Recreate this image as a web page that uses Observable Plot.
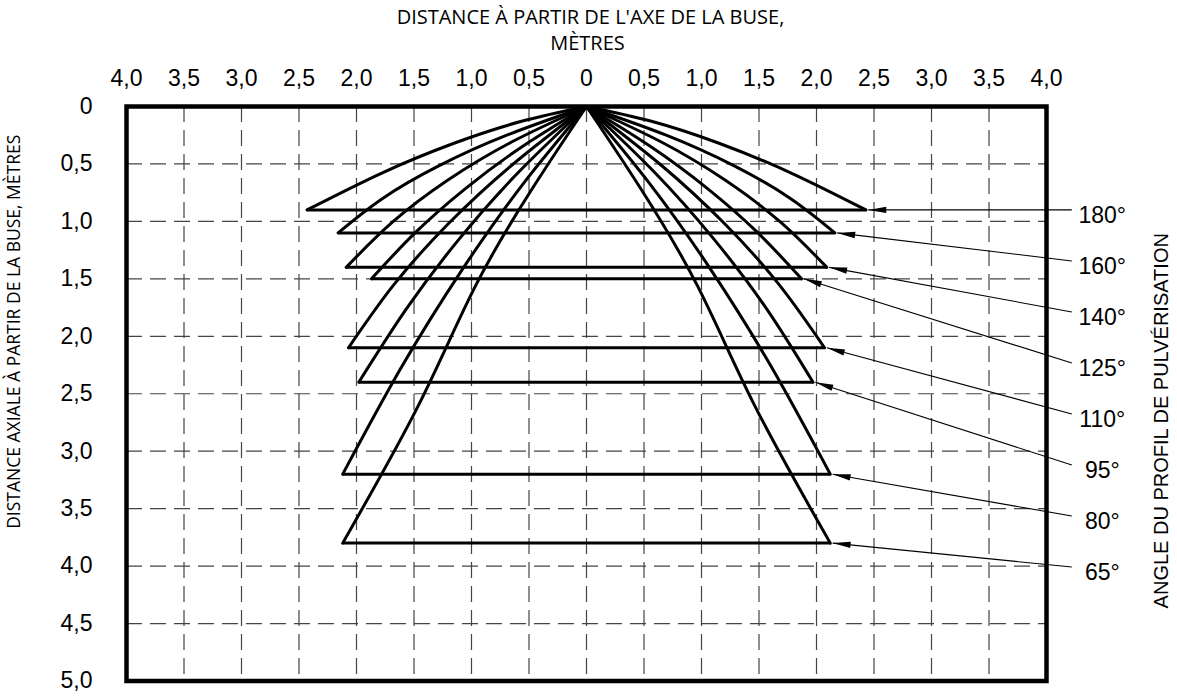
<!DOCTYPE html>
<html><head><meta charset="utf-8">
<script src="https://cdn.jsdelivr.net/npm/d3@7"></script>
<script src="https://cdn.jsdelivr.net/npm/@observablehq/plot@0.6"></script>
<style>
html,body{margin:0;padding:0;background:#fff;}
#chart{width:1177px;height:696px;}
</style></head><body><div id="chart"></div>
<script>
// ---- data ----
const angleLabels = ["180°","160°","140°","125°","110°","95°","80°","65°"];
const depths     = [0.90, 1.10, 1.40, 1.50, 2.10, 2.40, 3.20, 3.80];
const leftEnds   = [-2.43, -2.16, -2.09, -1.87, -2.07, -1.98, -2.12, -2.12];
const rightEnds  = [2.43, 2.16, 2.09, 1.87, 2.07, 1.97, 2.12, 2.12];
// spray profile: horizontal distance from axis / depth, nozzle -> edge
const profileX = [
  [0, 0.565, 1.158, 1.780],
  [0, 0.693, 1.285, 1.773],
  [0, 0.643, 1.205, 1.688],
  [0, 0.554, 1.050, 1.489],
  [0, 0.645, 1.206, 1.680],
  [0, 0.583, 1.106, 1.568],
  [0, 0.551, 1.088, 1.611],
  [0, 0.457, 0.963, 1.457]
];
const profileY = [
  [0, 0.129, 0.322, 0.579],
  [0, 0.250, 0.517, 0.800],
  [0, 0.305, 0.640, 1.007],
  [0, 0.346, 0.712, 1.098],
  [0, 0.507, 1.025, 1.557],
  [0, 0.564, 1.152, 1.764],
  [0, 0.673, 1.430, 2.272],
  [0, 0.692, 1.557, 2.592]
];
const xTicks = [-4,-3.5,-3,-2.5,-2,-1.5,-1,-0.5,0,0.5,1,1.5,2,2.5,3,3.5,4];
const yTicks = [0,0.5,1,1.5,2,2.5,3,3.5,4,4.5,5];
const xTitle1 = "DISTANCE À PARTIR DE L'AXE DE LA BUSE,";
const xTitle2 = "MÈTRES";
const yTitle = "DISTANCE AXIALE À PARTIR DE LA BUSE, MÈTRES";
const rTitle = "ANGLE DU PROFIL DE PULVÉRISATION";

// ---- layout ----
const W = 1177, H = 696, ML = 126, MT = 106, MR = 131, MB = 15.5;
const labelX = 4.485, labelTop = 0.95, labelStep = 0.444, leaderEndX = 4.22;
const fmt = v => v === 0 ? "0" : Math.abs(v).toFixed(1).replace(".", ",");

const xs = Plot.scale({x: {domain: [-4, 4], range: [ML, W - MR]}});
const ys = Plot.scale({y: {domain: [0, 5], range: [MT, H - MB]}});

const curves = [];
angleLabels.forEach((a, i) => {
  profileX[i].forEach((px, k) => {
    curves.push({key: i + "L", x: -px, y: profileY[i][k]});
  });
  curves.push({key: i + "L", x: leftEnds[i], y: depths[i]});
  profileX[i].forEach((px, k) => {
    curves.push({key: i + "R", x: px, y: profileY[i][k]});
  });
  curves.push({key: i + "R", x: rightEnds[i], y: depths[i]});
});
const spans = angleLabels.map((a, i) => ({x1: leftEnds[i], x2: rightEnds[i], y: depths[i]}));
const leaders = angleLabels.map((a, i) => {
  const tx = rightEnds[i] + 0.02, ty = depths[i];
  const ly = labelTop + i * labelStep;
  const ex = leaderEndX, ey = ly - 0.05;
  const ang = Math.atan2(ys.apply(ey) - ys.apply(ty), xs.apply(ex) - xs.apply(tx)) * 180 / Math.PI;
  return {tx, ty, ex, ey, ly, ang, label: a};
});
const arrowHead = {draw(ctx) { ctx.moveTo(0, 0); ctx.lineTo(18, -3.2); ctx.lineTo(18, 3.2); ctx.closePath(); }};

const gridStyle = {stroke: "#444", strokeWidth: 1.2, strokeDasharray: "16,8"};

const chart = Plot.plot({
  width: W, height: H,
  marginLeft: ML, marginTop: MT, marginRight: MR, marginBottom: MB,
  style: {fontFamily: "'Liberation Sans', Arial, sans-serif", background: "#fff", overflow: "visible"},
  x: {domain: [-4, 4], range: [ML, W - MR]},
  y: {domain: [0, 5], range: [MT, H - MB]},
  marks: [
    Plot.ruleX(xTicks.slice(1, -1), gridStyle),
    Plot.ruleY(yTicks.slice(1, -1), gridStyle),
    Plot.line(curves, {x: "x", y: "y", z: "key", curve: "natural", stroke: "#000", strokeWidth: 3}),
    Plot.link(spans, {x1: "x1", x2: "x2", y1: "y", y2: "y", stroke: "#000", strokeWidth: 3}),
    Plot.link(leaders, {x1: "tx", y1: "ty", x2: "ex", y2: "ey", stroke: "#000", strokeWidth: 1.1}),
    Plot.dot(leaders, {x: "tx", y: "ty", symbol: arrowHead, rotate: "ang", fill: "#000", stroke: "none", r: 5}),
    Plot.text(leaders, {x: () => labelX, y: "ly", text: "label", fontSize: 23, textAnchor: "middle", fill: "#000"}),
    Plot.frame({stroke: "#000", strokeWidth: 4.5}),
    Plot.axisX({anchor: "top", ticks: xTicks, tickSize: 0, tickPadding: 21, tickFormat: fmt, fontSize: 23, label: null}),
    Plot.axisY({anchor: "left", ticks: yTicks, tickSize: 0, tickPadding: 34, tickFormat: fmt, fontSize: 23, label: null}),
    Plot.text([xTitle1], {frameAnchor: "top", dx: 4, dy: -89, text: d => d, fontSize: 20, fontFamily: "'Open Sans', sans-serif", textAnchor: "middle", lineAnchor: "middle", fill: "#000"}),
    Plot.text([xTitle2], {frameAnchor: "top", dx: 1, dy: -63, text: d => d, fontSize: 20, fontFamily: "'Open Sans', sans-serif", textAnchor: "middle", lineAnchor: "middle", fill: "#000"}),
    Plot.text([yTitle], {frameAnchor: "left", dx: -112, dy: -62, rotate: -90, text: d => d, fontSize: 17.5, fontFamily: "'Open Sans', sans-serif", textAnchor: "middle", lineAnchor: "middle", fill: "#000"}),
    Plot.text([rTitle], {frameAnchor: "right", dx: 115, dy: 27, rotate: -90, text: d => d, fontSize: 20, textAnchor: "middle", lineAnchor: "middle", fill: "#000"})
  ]
});
document.getElementById("chart").appendChild(chart);
</script>
</body></html>
